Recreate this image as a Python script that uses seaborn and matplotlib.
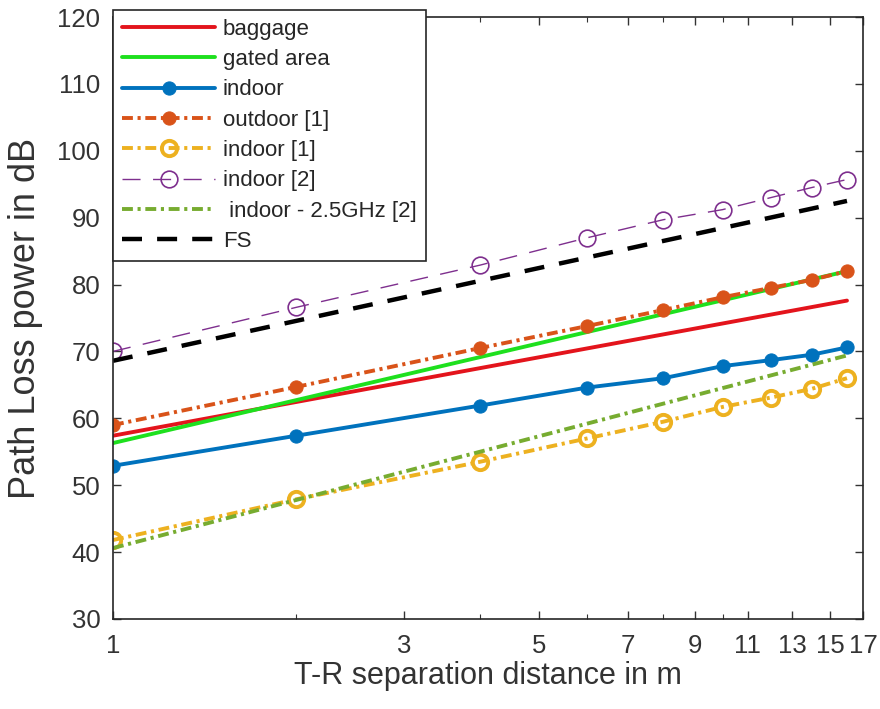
import seaborn as sns
import matplotlib.pyplot as plt
import matplotlib.ticker as mticker

sns.set_style("ticks")
plt.rcParams['font.family'] = ['Liberation Sans', 'DejaVu Sans']

# distances (m) at which the curves were evaluated
d_pts = [1, 2, 4, 6, 8, 10, 12, 14, 16]
d_line = [1, 16]

# path loss values (dB)
baggage = [57.4, 77.6]
gated_area = [56.3, 82.0]
indoor = [52.9, 57.4, 61.9, 64.6, 66.0, 67.8, 68.7, 69.5, 70.6]
outdoor_1 = [59.0, 64.7, 70.5, 73.8, 76.2, 78.1, 79.5, 80.7, 82.0]
indoor_1 = [41.8, 47.9, 53.5, 57.0, 59.5, 61.7, 63.1, 64.4, 66.0]
indoor_2 = [70.0, 76.6, 82.9, 87.0, 89.7, 91.2, 93.0, 94.5, 95.7]
indoor_25ghz_2 = [40.6, 69.4]
fs = [68.6, 92.5]

x_ticks = [1, 3, 5, 7, 9, 11, 13, 15, 17]
y_ticks = [30, 40, 50, 60, 70, 80, 90, 100, 110, 120]

fig = plt.figure(figsize=(8.8, 7.09), dpi=100)
ax = fig.add_axes([0.1284, 0.127, 0.8523, 0.849])

dashdot = (0, (2.8, 1.2, 0.8, 1.2))
series = [
    ("baggage", d_line, baggage, dict(color="#E3141C", linestyle="-", linewidth=2.8)),
    ("gated area", d_line, gated_area, dict(color="#1EE01E", linestyle="-", linewidth=2.8)),
    ("indoor", d_pts, indoor, dict(color="#0072BD", linestyle="-", linewidth=2.8,
                                   marker="o", markersize=9.5, markerfacecolor="#0072BD",
                                   markeredgecolor="#0072BD")),
    ("outdoor [1]", d_pts, outdoor_1, dict(color="#D95319", linestyle=dashdot, linewidth=2.8,
                                            marker="o", markersize=9.5, markerfacecolor="#D95319",
                                            markeredgecolor="#D95319")),
    ("indoor [1]", d_pts, indoor_1, dict(color="#EDB120", linestyle=dashdot, linewidth=2.8,
                                          marker="o", markersize=11, markerfacecolor="none",
                                          markeredgecolor="#EDB120", markeredgewidth=2.8)),
    ("indoor [2]", d_pts, indoor_2, dict(color="#7E2F8E", linestyle=(0, (13, 9)), linewidth=1.0,
                                          marker="o", markersize=12, markerfacecolor="none",
                                          markeredgecolor="#7E2F8E", markeredgewidth=1.2)),
    (" indoor - 2.5GHz [2]", d_line, indoor_25ghz_2, dict(color="#77AC30", linestyle=dashdot,
                                                          linewidth=2.8)),
    ("FS", d_line, fs, dict(color="black", linestyle=(0, (4.5, 3.4)), linewidth=3.2)),
]

for name, xs, ys, style in series:
    sns.lineplot(x=xs, y=ys, ax=ax, label=name, **style)

ax.set_xscale("log")
ax.set_xlim(1, 17)
ax.set_ylim(30, 120)
ax.xaxis.set_major_locator(mticker.FixedLocator(x_ticks))
ax.xaxis.set_major_formatter(mticker.FixedFormatter([str(v) for v in x_ticks]))
ax.xaxis.set_minor_locator(mticker.FixedLocator([2, 4, 6, 8, 10]))
ax.xaxis.set_minor_formatter(mticker.NullFormatter())
ax.set_yticks(y_ticks)

ax.tick_params(which="both", direction="in", top=True, right=True, colors="#333333",
               labelsize=18.5)
ax.tick_params(axis="x", pad=11)
ax.tick_params(axis="y", pad=9)
ax.tick_params(which="major", length=6, width=1)
ax.tick_params(which="minor", length=3.5, width=0.8)
for sp in ax.spines.values():
    sp.set_color("#262626")
    sp.set_linewidth(1.2)

ax.set_xlabel("T-R separation distance in m", fontsize=22, color="#333333", labelpad=2)
ax.set_ylabel("Path Loss power in dB", fontsize=26, color="#333333", labelpad=10)

leg = ax.legend(loc="upper left", bbox_to_anchor=(0.0, 1.012), borderaxespad=0,
                fontsize=16, frameon=True, fancybox=False, handlelength=4.2,
                handletextpad=0.35, labelspacing=0.42, borderpad=0.4)
leg.get_frame().set_edgecolor("#262626")
leg.get_frame().set_linewidth(1.2)
leg.get_frame().set_alpha(1)

fig.savefig("out.png", dpi=100)
plt.close(fig)
